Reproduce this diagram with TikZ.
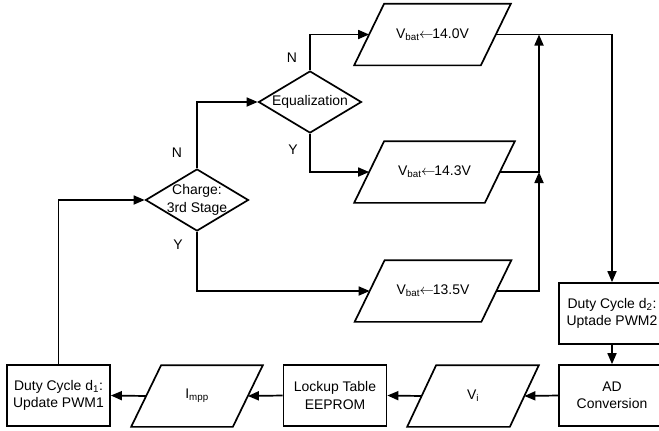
\documentclass[tikz,border=0pt]{standalone}
\usepackage{fontspec}
\setmainfont{Liberation Sans}
\usetikzlibrary{shapes.geometric,arrows.meta}
\newcommand\parabox[2]{\draw ([xshift=#2]#1.north west) -- ([xshift=#2]#1.north east) -- ([xshift=-#2]#1.south east) -- ([xshift=-#2]#1.south west) -- cycle;}
\newcommand\vbat[1]{V\textsubscript{bat}\kern-0.5pt$\leftarrow$\kern-1pt#1V}
\begin{document}
\begin{tikzpicture}[x=1bp,y=-1bp, line width=1.7bp, font=\fontsize{14}{17.5}\selectfont,
 box/.style={draw, minimum width=103bp, minimum height=61bp, align=center, inner sep=0},
 para/.style={minimum width=#1, minimum height=60bp, inner sep=0},
 dia/.style={draw, diamond, minimum width=103bp, minimum height=62bp, inner sep=0},
 arr/.style={-{Triangle[length=11bp,width=9bp]}}]
\useasboundingbox (0,0) rectangle (659,430);
\node[dia] (eq) at (310,102) {\makebox[0pt]{Equalization}};
\node[dia] (ch) at (197,200) {\makebox[0pt]{\begin{tabular}{@{}c@{}}Charge:\\3rd Stage\end{tabular}}};
\node[para=125bp] (p1) at (432.5,34.5) {\vbat{14.0}};
\node[para=129bp] (p2) at (434.5,172) {\vbat{14.3}};
\node[para=125bp] (p3) at (433,291) {\vbat{13.5}};
\node[para=101bp] (vi) at (473,396) {V\textsubscript{i}};
\node[para=100bp] (ip) at (197,396) {I\textsubscript{mpp}};
\parabox{p1}{15bp}
\parabox{p2}{15bp}
\parabox{p3}{15bp}
\parabox{vi}{14.5bp}
\parabox{ip}{15bp}
\node[box] (d1) at (58.5,395.5) {Duty Cycle d\textsubscript{1}:\\Update PWM1};
\node[box] (lt) at (335,395.5) {Lockup Table\\EEPROM};
\node[box, minimum width=106bp] (d2) at (612,313.5) {Duty Cycle d\textsubscript{2}:\\Uptade PWM2};
\node[box, minimum width=106bp] (ad) at (612,395.5) {AD\\Conversion};
\coordinate (j2) at (539,172);
\coordinate (j1) at (539,34.5);
\draw[arr] (ch.north) |- (eq.west);
\draw[arr] (eq.north) |- (p1.west);
\draw[arr] (eq.south) |- (p2.west);
\draw[arr] (ch.south) |- (p3.west);
\draw[arr] (p1.east) -| (d2.north);
\draw[arr] (p3.east) -| (j2);
\draw[arr] (p2.east) -- (j2) -- (j1);
\draw[arr] (d2.south) -- (ad.north);
\draw[arr] (ad.west) -- (vi.east);
\draw[arr] (vi.west) -- (lt.east);
\draw[arr] (lt.west) -- (ip.east);
\draw[arr] (ip.west) -- (d1.east);
\draw[arr] (d1.north) |- (ch.west);
\node (n1) at (177,153) {N};
\node (n2) at (292,58) {N};
\node (y1) at (293,150) {Y};
\node (y2) at (178,245) {Y};
\end{tikzpicture}
\end{document}
